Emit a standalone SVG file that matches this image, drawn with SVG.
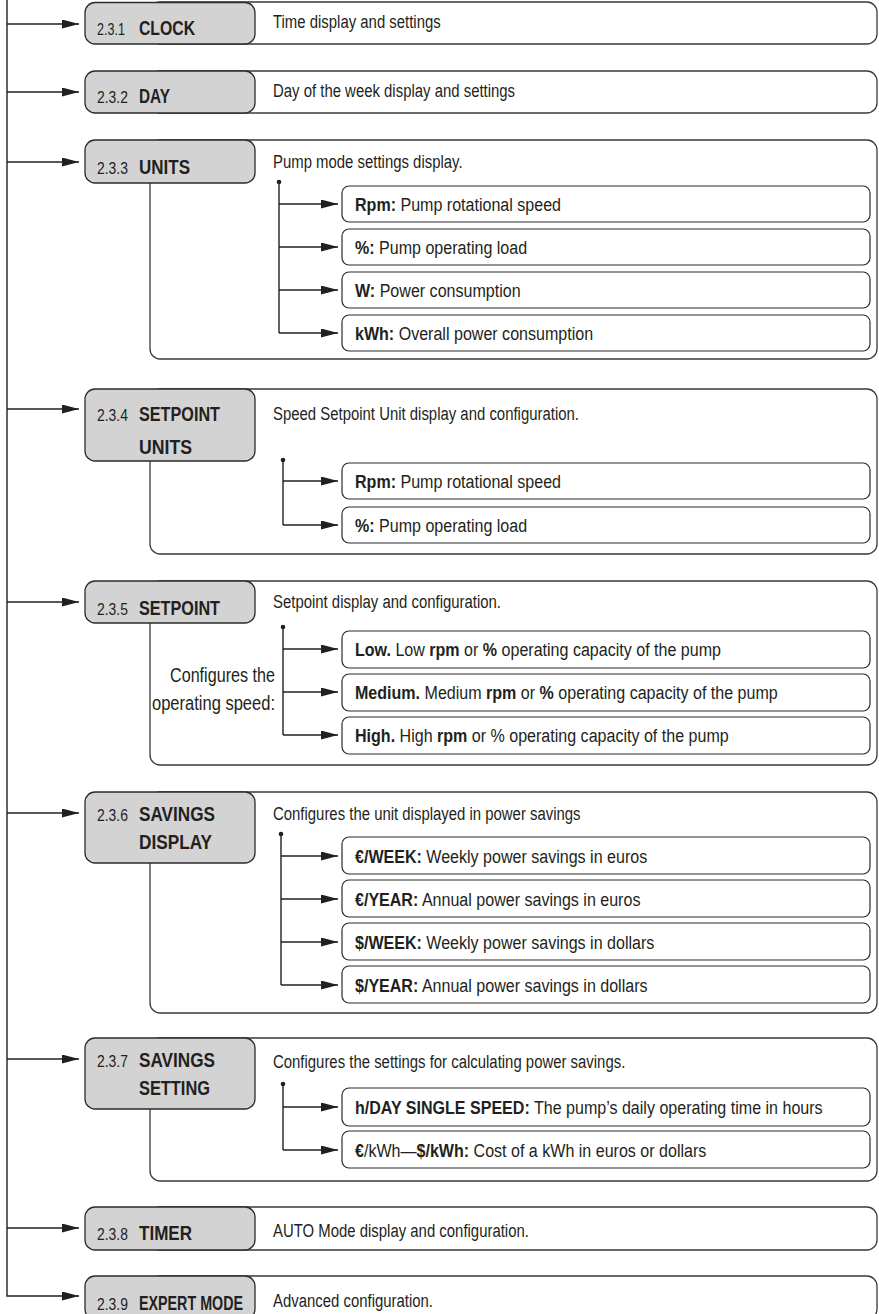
<svg xmlns="http://www.w3.org/2000/svg" width="879" height="1314" viewBox="0 0 879 1314">
<defs>
<marker id="ah" markerWidth="17" markerHeight="9" refX="17" refY="4.5" orient="auto" markerUnits="userSpaceOnUse"><path d="M0,0 L17,4.5 L0,9 z" fill="#231f20"/></marker>
<style>
.outer{fill:#fff;stroke:#3a3a3a;stroke-width:1.3}
.gray{fill:#d3d3d3;stroke:#2b2b2b;stroke-width:1.3}
.sub{fill:#fff;stroke:#2b2b2b;stroke-width:1.2}
.ln{stroke:#231f20;stroke-width:1.4;fill:none}
.dot{fill:#231f20}
text{font-family:"Liberation Sans",Arial,sans-serif;fill:#231f20}
.d{font-size:19px}
.n{font-size:16.5px}
.h{font-size:21px;font-weight:bold}
.b{font-weight:bold}
.c{font-size:20.5px}
</style>
</defs>
<rect x="0" y="0" width="879" height="1314" fill="#fff"/>

<g id="connectors">
<path class="ln" d="M7,0 V1296 H79" marker-end="url(#ah)"/>
<line class="ln" x1="7" y1="24" x2="79" y2="24" marker-end="url(#ah)"/>
<line class="ln" x1="7" y1="92" x2="79" y2="92" marker-end="url(#ah)"/>
<line class="ln" x1="7" y1="162" x2="79" y2="162" marker-end="url(#ah)"/>
<line class="ln" x1="7" y1="409" x2="79" y2="409" marker-end="url(#ah)"/>
<line class="ln" x1="7" y1="602" x2="79" y2="602" marker-end="url(#ah)"/>
<line class="ln" x1="7" y1="813" x2="79" y2="813" marker-end="url(#ah)"/>
<line class="ln" x1="7" y1="1059" x2="79" y2="1059" marker-end="url(#ah)"/>
<line class="ln" x1="7" y1="1228" x2="79" y2="1228" marker-end="url(#ah)"/>
</g>

<g id="n231">
<rect class="outer" x="150" y="2" width="727" height="42" rx="10"/>
<rect class="gray" x="85" y="2.5" width="170" height="41.5" rx="10"/>
<text transform="translate(97 35) scale(0.75 1)"><tspan class="n" x="0" textLength="37.3" lengthAdjust="spacingAndGlyphs">2.3.1</tspan> <tspan class="h" x="56" textLength="74.7" lengthAdjust="spacingAndGlyphs">CLOCK</tspan></text>
<text class="d" transform="translate(273 28) scale(0.785 1)">Time display and settings</text>
</g>

<g id="n232">
<rect class="outer" x="150" y="71" width="727" height="42" rx="10"/>
<rect class="gray" x="85" y="71" width="170" height="42" rx="10"/>
<text transform="translate(97 103) scale(0.75 1)"><tspan class="n" x="0" textLength="41.3" lengthAdjust="spacingAndGlyphs">2.3.2</tspan> <tspan class="h" x="56" textLength="41.3" lengthAdjust="spacingAndGlyphs">DAY</tspan></text>
<text class="d" transform="translate(273 97) scale(0.785 1)">Day of the week display and settings</text>
</g>

<g id="n233">
<rect class="outer" x="150" y="140" width="727" height="219" rx="10"/>
<rect class="gray" x="85" y="140" width="170" height="43" rx="10"/>
<text transform="translate(97 174) scale(0.75 1)"><tspan class="n" x="0" textLength="41.3" lengthAdjust="spacingAndGlyphs">2.3.3</tspan> <tspan class="h" x="56" textLength="68" lengthAdjust="spacingAndGlyphs">UNITS</tspan></text>
<text class="d" transform="translate(273 168) scale(0.785 1)">Pump mode settings display.</text>
<g id="n233-branch">
<path class="ln" d="M279,182 V333"/>
<circle class="dot" cx="279" cy="182" r="2.3"/>
<line class="ln" x1="279" y1="204" x2="338" y2="204" marker-end="url(#ah)"/>
<line class="ln" x1="279" y1="247" x2="338" y2="247" marker-end="url(#ah)"/>
<line class="ln" x1="279" y1="290" x2="338" y2="290" marker-end="url(#ah)"/>
<line class="ln" x1="279" y1="333" x2="338" y2="333" marker-end="url(#ah)"/>
</g>
<g id="n233-rpm"><rect class="sub" x="342" y="186" width="528" height="36" rx="7"/>
<text class="d" transform="translate(355 211) scale(0.845 1)"><tspan class="b">Rpm:</tspan> Pump rotational speed</text></g>
<g id="n233-pct"><rect class="sub" x="342" y="229" width="528" height="36" rx="7"/>
<text class="d" transform="translate(355 254) scale(0.845 1)"><tspan class="b">%:</tspan> Pump operating load</text></g>
<g id="n233-w"><rect class="sub" x="342" y="272" width="528" height="36" rx="7"/>
<text class="d" transform="translate(355 297) scale(0.845 1)"><tspan class="b">W:</tspan> Power consumption</text></g>
<g id="n233-kwh"><rect class="sub" x="342" y="315" width="528" height="36" rx="7"/>
<text class="d" transform="translate(355 340) scale(0.845 1)"><tspan class="b">kWh:</tspan> Overall power consumption</text></g>
</g>

<g id="n234">
<rect class="outer" x="150" y="389" width="727" height="165" rx="10"/>
<rect class="gray" x="85" y="389" width="170" height="72" rx="10"/>
<text transform="translate(97 421) scale(0.75 1)"><tspan class="n" x="0" textLength="41.3" lengthAdjust="spacingAndGlyphs">2.3.4</tspan> <tspan class="h" x="56" textLength="108" lengthAdjust="spacingAndGlyphs">SETPOINT</tspan><tspan class="h" x="56" y="33" textLength="70.7" lengthAdjust="spacingAndGlyphs">UNITS</tspan></text>
<text class="d" transform="translate(273 420) scale(0.785 1)">Speed Setpoint Unit display and configuration.</text>
<g id="n234-branch">
<path class="ln" d="M283,460 V525"/>
<circle class="dot" cx="283" cy="460" r="2.3"/>
<line class="ln" x1="283" y1="481" x2="338" y2="481" marker-end="url(#ah)"/>
<line class="ln" x1="283" y1="525" x2="338" y2="525" marker-end="url(#ah)"/>
</g>
<g id="n234-rpm"><rect class="sub" x="342" y="463" width="528" height="36" rx="7"/>
<text class="d" transform="translate(355 488) scale(0.845 1)"><tspan class="b">Rpm:</tspan> Pump rotational speed</text></g>
<g id="n234-pct"><rect class="sub" x="342" y="507" width="528" height="36" rx="7"/>
<text class="d" transform="translate(355 532) scale(0.845 1)"><tspan class="b">%:</tspan> Pump operating load</text></g>
</g>

<g id="n235">
<rect class="outer" x="150" y="581" width="727" height="184" rx="10"/>
<rect class="gray" x="85" y="581" width="170" height="42" rx="10"/>
<text transform="translate(97 615) scale(0.75 1)"><tspan class="n" x="0" textLength="41.3" lengthAdjust="spacingAndGlyphs">2.3.5</tspan> <tspan class="h" x="56" textLength="108" lengthAdjust="spacingAndGlyphs">SETPOINT</tspan></text>
<text class="d" transform="translate(273 608) scale(0.785 1)">Setpoint display and configuration.</text>
<text class="c" text-anchor="end"><tspan x="275" y="682" textLength="105" lengthAdjust="spacingAndGlyphs">Configures the</tspan><tspan x="275" y="710" textLength="123" lengthAdjust="spacingAndGlyphs">operating speed:</tspan></text>
<g id="n235-branch">
<path class="ln" d="M283,627 V735"/>
<circle class="dot" cx="283" cy="627" r="2.3"/>
<line class="ln" x1="283" y1="649" x2="338" y2="649" marker-end="url(#ah)"/>
<line class="ln" x1="283" y1="692" x2="338" y2="692" marker-end="url(#ah)"/>
<line class="ln" x1="283" y1="735" x2="338" y2="735" marker-end="url(#ah)"/>
</g>
<g id="n235-low"><rect class="sub" x="342" y="631" width="528" height="37" rx="7"/>
<text class="d" transform="translate(355 656) scale(0.845 1)"><tspan class="b">Low.</tspan> Low <tspan class="b">rpm</tspan> or <tspan class="b">%</tspan> operating capacity of the pump</text></g>
<g id="n235-med"><rect class="sub" x="342" y="674" width="528" height="37" rx="7"/>
<text class="d" transform="translate(355 699) scale(0.845 1)"><tspan class="b">Medium.</tspan> Medium <tspan class="b">rpm</tspan> or <tspan class="b">%</tspan> operating capacity of the pump</text></g>
<g id="n235-high"><rect class="sub" x="342" y="717" width="528" height="37" rx="7"/>
<text class="d" transform="translate(355 742) scale(0.845 1)"><tspan class="b">High.</tspan> High <tspan class="b">rpm</tspan> or % operating capacity of the pump</text></g>
</g>

<g id="n236">
<rect class="outer" x="150" y="792" width="727" height="221" rx="10"/>
<rect class="gray" x="85" y="792" width="170" height="71" rx="10"/>
<text transform="translate(97 821) scale(0.75 1)"><tspan class="n" x="0" textLength="41.3" lengthAdjust="spacingAndGlyphs">2.3.6</tspan> <tspan class="h" x="56" textLength="101.3" lengthAdjust="spacingAndGlyphs">SAVINGS</tspan><tspan class="h" x="56" y="28" textLength="97.3" lengthAdjust="spacingAndGlyphs">DISPLAY</tspan></text>
<text class="d" transform="translate(273 820) scale(0.785 1)">Configures the unit displayed in power savings</text>
<g id="n236-branch">
<path class="ln" d="M281,834 V985"/>
<circle class="dot" cx="281" cy="834" r="2.3"/>
<line class="ln" x1="281" y1="856" x2="338" y2="856" marker-end="url(#ah)"/>
<line class="ln" x1="281" y1="899" x2="338" y2="899" marker-end="url(#ah)"/>
<line class="ln" x1="281" y1="942" x2="338" y2="942" marker-end="url(#ah)"/>
<line class="ln" x1="281" y1="985" x2="338" y2="985" marker-end="url(#ah)"/>
</g>
<g id="n236-ew"><rect class="sub" x="342" y="837" width="528" height="37" rx="7"/>
<text class="d" transform="translate(355 863) scale(0.845 1)"><tspan class="b">€/WEEK:</tspan> Weekly power savings in euros</text></g>
<g id="n236-ey"><rect class="sub" x="342" y="880" width="528" height="37" rx="7"/>
<text class="d" transform="translate(355 906) scale(0.845 1)"><tspan class="b">€/YEAR:</tspan> Annual power savings in euros</text></g>
<g id="n236-dw"><rect class="sub" x="342" y="923" width="528" height="37" rx="7"/>
<text class="d" transform="translate(355 949) scale(0.845 1)"><tspan class="b">$/WEEK:</tspan> Weekly power savings in dollars</text></g>
<g id="n236-dy"><rect class="sub" x="342" y="966" width="528" height="37" rx="7"/>
<text class="d" transform="translate(355 992) scale(0.845 1)"><tspan class="b">$/YEAR:</tspan> Annual power savings in dollars</text></g>
</g>

<g id="n237">
<rect class="outer" x="150" y="1038" width="727" height="143" rx="10"/>
<rect class="gray" x="85" y="1038" width="170" height="71" rx="10"/>
<text transform="translate(97 1067) scale(0.75 1)"><tspan class="n" x="0" textLength="41.3" lengthAdjust="spacingAndGlyphs">2.3.7</tspan> <tspan class="h" x="56" textLength="101.3" lengthAdjust="spacingAndGlyphs">SAVINGS</tspan><tspan class="h" x="56" y="28" textLength="94.7" lengthAdjust="spacingAndGlyphs">SETTING</tspan></text>
<text class="d" transform="translate(273 1068) scale(0.785 1)">Configures the settings for calculating power savings.</text>
<g id="n237-branch">
<path class="ln" d="M283,1084 V1150"/>
<circle class="dot" cx="283" cy="1084" r="2.3"/>
<line class="ln" x1="283" y1="1107" x2="338" y2="1107" marker-end="url(#ah)"/>
<line class="ln" x1="283" y1="1150" x2="338" y2="1150" marker-end="url(#ah)"/>
</g>
<g id="n237-h"><rect class="sub" x="342" y="1088" width="528" height="38" rx="7"/>
<text class="d" transform="translate(355 1114) scale(0.845 1)"><tspan class="b">h/DAY SINGLE SPEED:</tspan> The pump’s daily operating time in hours</text></g>
<g id="n237-k"><rect class="sub" x="342" y="1131" width="528" height="37" rx="7"/>
<text class="d" transform="translate(355 1157) scale(0.845 1)"><tspan class="b">€</tspan>/kWh—<tspan class="b">$/kWh:</tspan> Cost of a kWh in euros or dollars</text></g>
</g>

<g id="n238">
<rect class="outer" x="150" y="1207" width="727" height="43" rx="10"/>
<rect class="gray" x="85" y="1207" width="170" height="43" rx="10"/>
<text transform="translate(97 1240) scale(0.75 1)"><tspan class="n" x="0" textLength="41.3" lengthAdjust="spacingAndGlyphs">2.3.8</tspan> <tspan class="h" x="56" textLength="70.7" lengthAdjust="spacingAndGlyphs">TIMER</tspan></text>
<text class="d" transform="translate(273 1237) scale(0.785 1)">AUTO Mode display and configuration.</text>
</g>

<g id="n239">
<rect class="outer" x="150" y="1276" width="727" height="43" rx="10"/>
<rect class="gray" x="85" y="1276" width="170" height="43" rx="10"/>
<text transform="translate(97 1310) scale(0.75 1)"><tspan class="n" x="0" textLength="41.3" lengthAdjust="spacingAndGlyphs">2.3.9</tspan> <tspan class="h" x="56" textLength="138.7" lengthAdjust="spacingAndGlyphs">EXPERT MODE</tspan></text>
<text class="d" transform="translate(273 1307) scale(0.785 1)">Advanced configuration.</text>
</g>
</svg>
